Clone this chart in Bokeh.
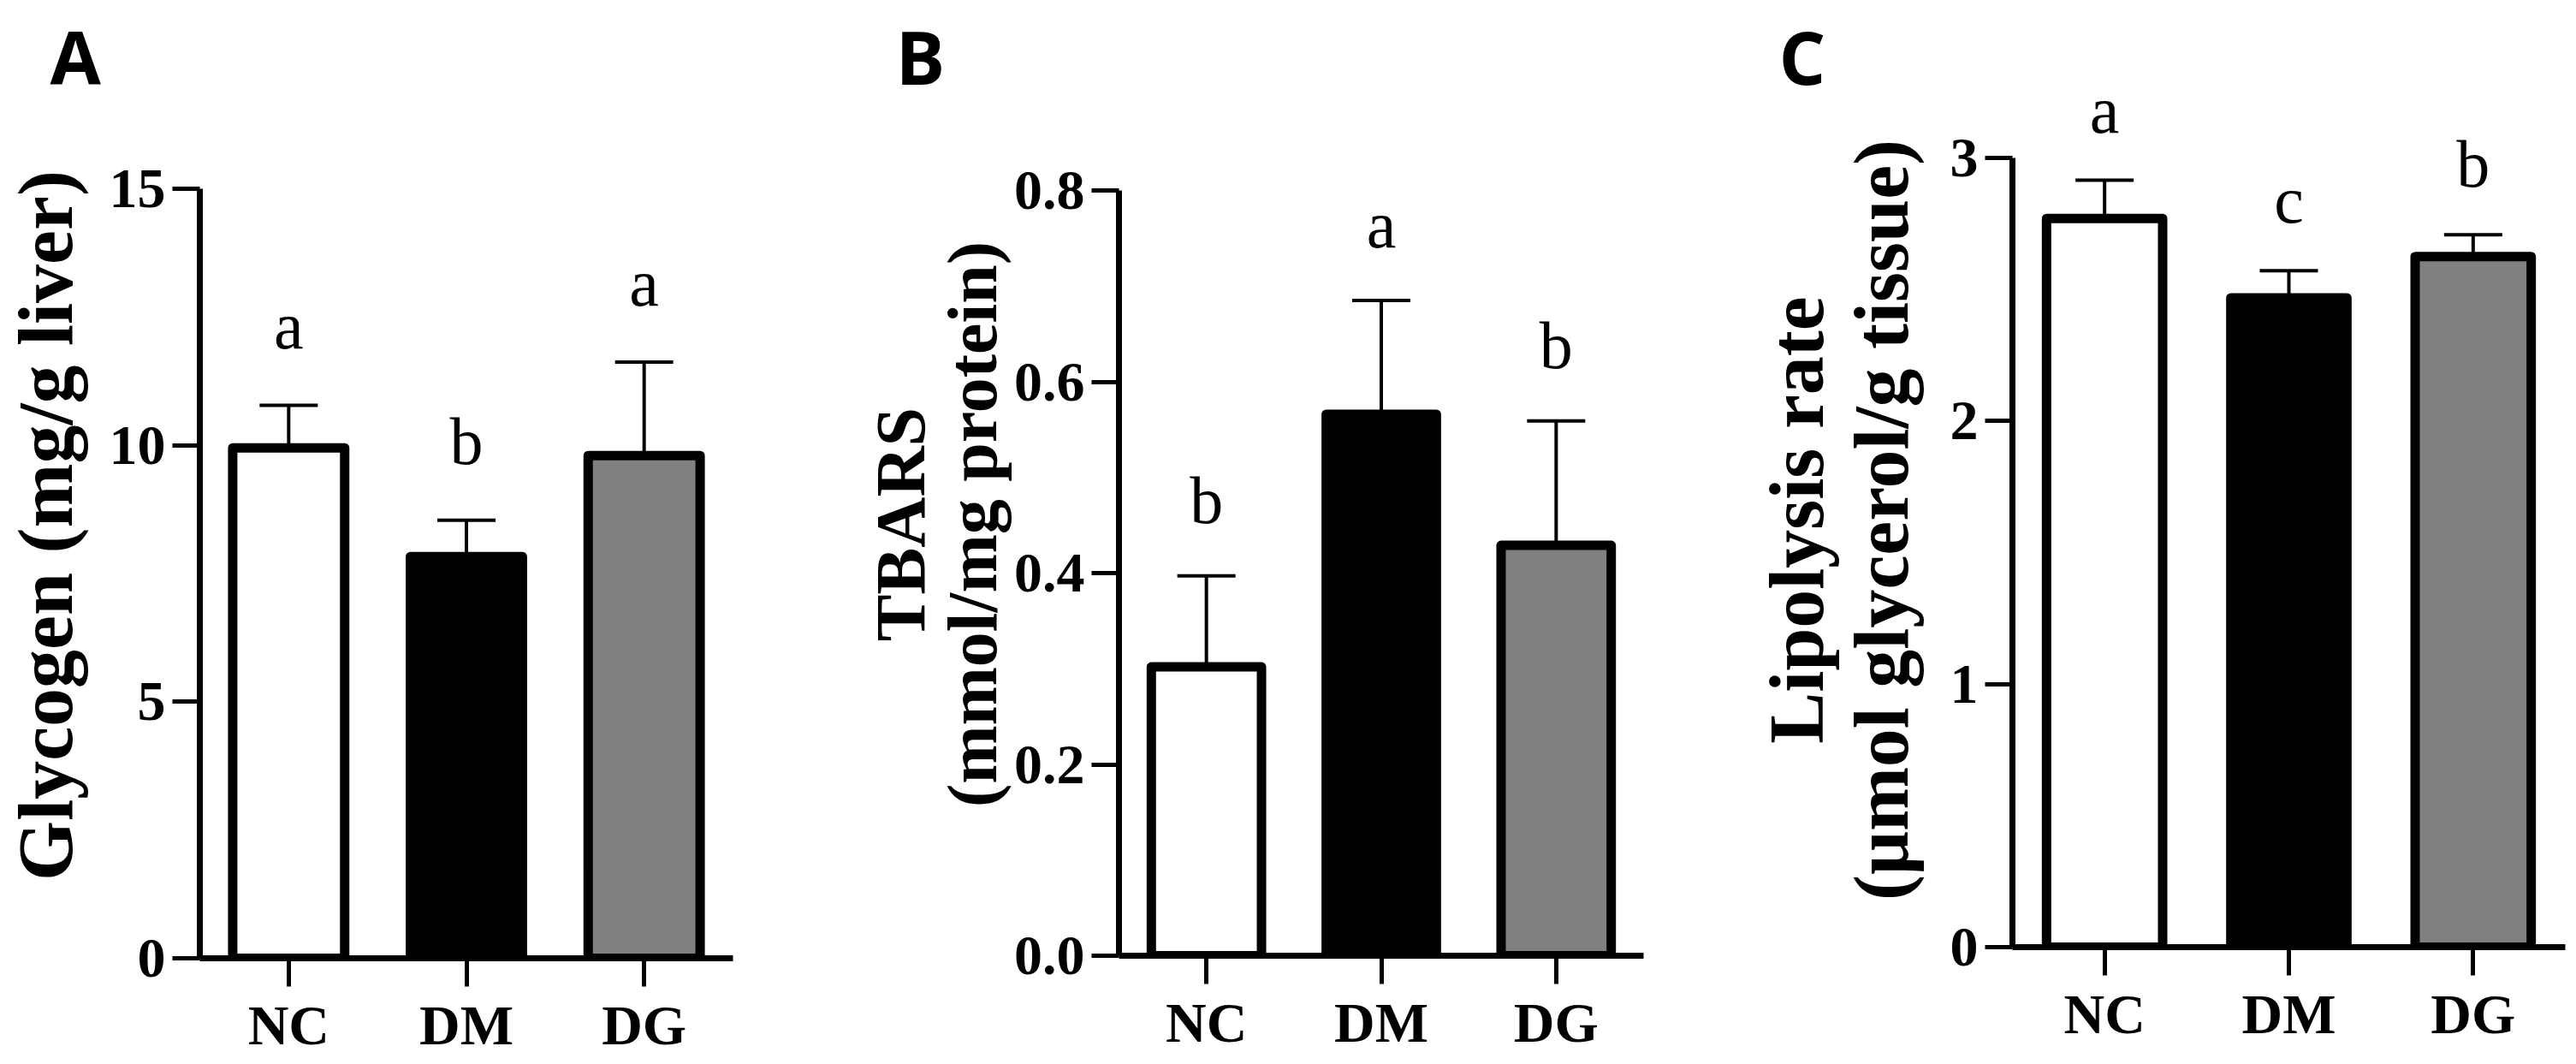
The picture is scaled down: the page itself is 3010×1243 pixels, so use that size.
from bokeh.plotting import figure
from bokeh.models import (ColumnDataSource, FactorRange, Range1d, FixedTicker,
                          PrintfTickFormatter, Whisker, TeeHead, LabelSet)
from bokeh.layouts import row
from bokeh.core.properties import value
from bokeh.embed import file_html
from bokeh.resources import INLINE

# ---------------- data ----------------
categories = ["NC", "DM", "DG"]
bar_colors = ["#ffffff", "#000000", "#808080"]

glycogen_mean = [9.95, 7.83, 9.80]
glycogen_sd = [0.83, 0.71, 1.82]
glycogen_sig = ["a", "b", "a"]
glycogen_ticks = [0, 5, 10, 15]

tbars_mean = [0.302, 0.566, 0.429]
tbars_sd = [0.095, 0.119, 0.130]
tbars_sig = ["b", "a", "b"]
tbars_ticks = [0.0, 0.2, 0.4, 0.6, 0.8]

lipolysis_mean = [2.77, 2.468, 2.625]
lipolysis_sd = [0.145, 0.103, 0.083]
lipolysis_sig = ["a", "c", "b"]
lipolysis_ticks = [0, 1, 2, 3]

# ---------------- style ----------------
SERIF = "Liberation Serif"
SANS = "Open Sans"
H = 1243
FRAME_TOP = 108      # plotting area starts here; axes stop at their top tick
TITLE_STANDOFF = -34


def panel(letter, mean, sd, sig, ylabel, yticks, fmt, fig_w,
          left, right, axis_top, bottom,
          letter_x, label_size, label_standoff, line_height, sig_offset):
    ymax = yticks[-1]
    axis_bottom_px = H - bottom
    # extend plotting area above the axis top so the letters are not clipped
    y_end = ymax + (axis_top - FRAME_TOP) * ymax / (axis_bottom_px - axis_top)
    p = figure(width=fig_w, height=H,
               x_range=FactorRange(factors=categories),
               y_range=Range1d(0, y_end),
               output_backend="svg", toolbar_location=None,
               min_border_left=left, min_border_right=right,
               min_border_top=FRAME_TOP, min_border_bottom=bottom)
    try:
        p.frame_align = False
    except Exception:
        pass
    p.background_fill_color = "white"
    p.border_fill_color = "white"
    p.outline_line_color = None
    p.xgrid.grid_line_color = None
    p.ygrid.grid_line_color = None

    # panel letter as the figure title
    p.title.text = letter
    p.title.text_font = SANS
    p.title.text_font_style = "bold"
    p.title.text_font_size = "86px"
    p.title.text_color = "black"
    p.title.align = "left"
    p.title.vertical_align = "top"
    p.title.offset = letter_x - left
    p.title.standoff = TITLE_STANDOFF

    tops = [m + s for m, s in zip(mean, sd)]
    src = ColumnDataSource(dict(x=categories, mean=mean, top=tops,
                                color=bar_colors, sig=sig))

    w = Whisker(source=src, base="x", lower="mean", upper="top",
                line_color="black", line_width=4, level="underlay",
                upper_head=TeeHead(size=68, line_width=4, line_color="black"),
                lower_head=None)
    p.add_layout(w)

    p.vbar(x="x", top="mean", bottom=0, width=0.63, source=src,
           fill_color="color", line_color="black", line_width=11,
           line_join="round")

    labels = LabelSet(source=src, x="x", y="top", text="sig", y_offset=sig_offset,
                      text_align="center", text_baseline="alphabetic",
                      text_font=value(SERIF), text_font_size=value("78px"),
                      text_color="black")
    p.add_layout(labels)

    # axes
    for ax in (p.xaxis[0], p.yaxis[0]):
        ax.axis_line_width = 7
        ax.axis_line_color = "black"
        ax.major_tick_line_width = 5
        ax.major_tick_line_color = "black"
        ax.major_tick_in = 0
        ax.minor_tick_line_color = None
        ax.major_label_text_font = SERIF
        ax.major_label_text_font_style = "bold"
        ax.major_label_text_font_size = "66px"
        ax.major_label_text_color = "black"
    p.xaxis.major_tick_out = 33
    p.xaxis.major_label_standoff = 8
    p.yaxis.major_tick_out = 32
    p.yaxis.major_label_standoff = 8
    p.yaxis.bounds = (0, ymax)
    p.yaxis.ticker = FixedTicker(ticks=yticks)
    p.yaxis.formatter = PrintfTickFormatter(format=fmt)
    p.yaxis.axis_label = ylabel
    p.yaxis.axis_label_text_font = SERIF
    p.yaxis.axis_label_text_font_style = "bold"
    p.yaxis.axis_label_text_font_size = label_size
    p.yaxis.axis_label_text_color = "black"
    p.yaxis.axis_label_standoff = label_standoff
    p.yaxis.axis_label_text_line_height = line_height
    return p


pA = panel("A", glycogen_mean, glycogen_sd, glycogen_sig,
           "Glycogen (mg/g liver)", glycogen_ticks, "%d", 1000,
           230, 144, 220, 124,
           55, "90px", 22, 1.2, 66)
pB = panel("B", tbars_mean, tbars_sd, tbars_sig,
           "TBARS\n(mmol/mg protein)", tbars_ticks, "%.1f", 1000,
           307, 80, 222, 127,
           46, "82px", 0, 0.92, 62)
pC = panel("C", lipolysis_mean, lipolysis_sd, lipolysis_sig,
           "Lipolysis rate\n(\u03bcmol glycerol/g tissue)", lipolysis_ticks, "%d", 1010,
           351, 13, 184, 137,
           78, "90px", 28, 0.99, 56)

layout = row(pA, pB, pC)
open("out.html", "w").write(file_html(layout, INLINE))
